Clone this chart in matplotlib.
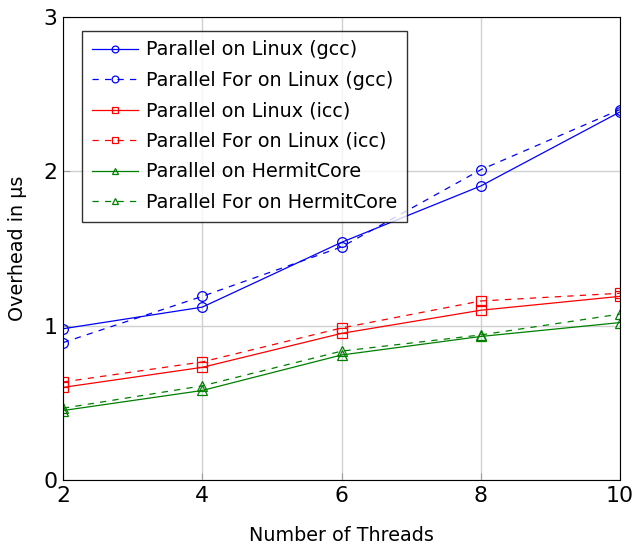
import numpy as np
import matplotlib.pyplot as plt

threads = [2, 4, 6, 8, 10]

par_linux_gcc = [0.98, 1.12, 1.54, 1.905, 2.385]
for_linux_gcc = [0.89, 1.19, 1.51, 2.01, 2.40]
par_linux_icc = [0.60, 0.73, 0.95, 1.10, 1.19]
for_linux_icc = [0.635, 0.765, 0.985, 1.16, 1.21]
par_hermit = [0.45, 0.58, 0.81, 0.93, 1.02]
for_hermit = [0.465, 0.61, 0.835, 0.94, 1.075]

series = [
    (par_linux_gcc, 'Parallel on Linux (gcc)', 'blue', 'o', '-'),
    (for_linux_gcc, 'Parallel For on Linux (gcc)', 'blue', 'o', (0, (5, 5))),
    (par_linux_icc, 'Parallel on Linux (icc)', 'red', 's', '-'),
    (for_linux_icc, 'Parallel For on Linux (icc)', 'red', 's', (0, (5, 5))),
    (par_hermit, 'Parallel on HermitCore', 'green', '^', '-'),
    (for_hermit, 'Parallel For on HermitCore', 'green', '^', (0, (5, 5))),
]

fig = plt.figure(figsize=(6.33, 5.44), dpi=100)
ax = fig.add_axes([63/633, 1 - 480/544, (620-63)/633, (480-17)/544])

for vals, label, col, mk, ls in series:
    ax.plot(threads, vals, color=col, marker=mk, linestyle=ls, linewidth=0.9,
            markersize=7, markerfacecolor='none', markeredgewidth=0.9, label=label)

ax.set_xlim(2, 10)
ax.set_ylim(0, 3)
ax.set_xticks(threads)
ax.set_yticks([0, 1, 2, 3])
ax.grid(True, color='#d0d0d0', linewidth=1)
ax.set_axisbelow(True)
ax.tick_params(direction='in', labelsize=15.8, length=5, color='#a0a0a0', pad=4)
ax.set_xlabel('Number of Threads', fontsize=13.8, labelpad=15)
ax.set_ylabel('Overhead in µs', fontsize=13.8, labelpad=12)

leg = ax.legend(loc='upper left', bbox_to_anchor=(0.034, 0.97), borderaxespad=0,
                fontsize=13.8, frameon=True, fancybox=False, edgecolor='black',
                handlelength=2.4, borderpad=0.5, labelspacing=0.6,
                handletextpad=0.45, markerscale=0.7)
leg.get_frame().set_linewidth(1)

fig.savefig('out.png', dpi=100)
